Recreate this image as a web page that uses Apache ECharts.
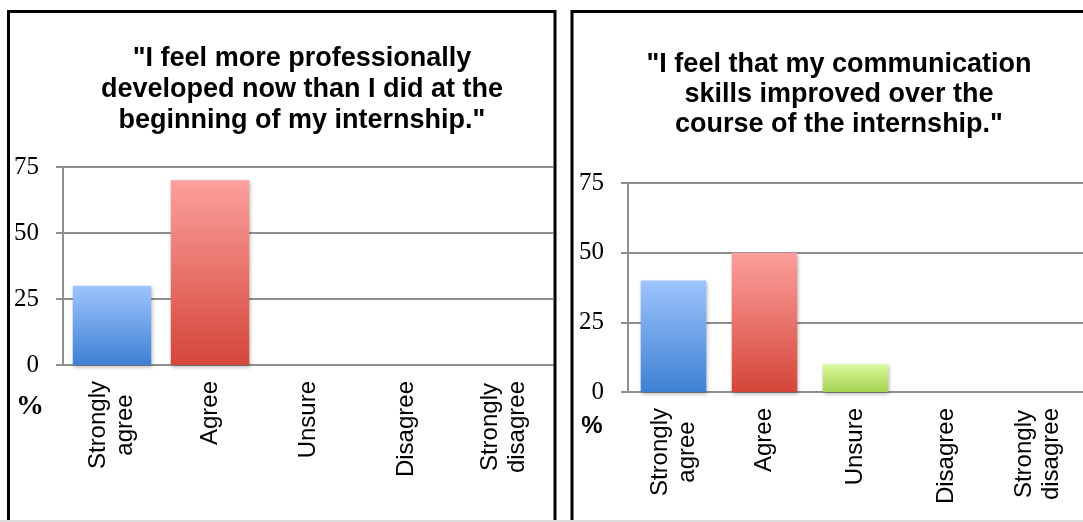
<!DOCTYPE html>
<html>
<head>
<meta charset="utf-8">
<script src="https://cdn.jsdelivr.net/npm/echarts@6/dist/echarts.min.js"></script>
<style>
html,body{margin:0;padding:0;background:#fff;}
#chart{width:1083px;height:522px;}
</style>
</head>
<body>
<div id="chart"></div>
<script>
// ---- data ----
const categories = ['Strongly\nagree', 'Agree', 'Unsure', 'Disagree', 'Strongly\ndisagree'];
const leftValues = [30, 70, 0, 0, 0];
const rightValues = [40, 50, 10, 0, 0];
const yTicks = [0, 25, 50, 75];
const leftTitle = '"I feel more professionally\ndeveloped now than I did at the\nbeginning of my internship."';
const rightTitle = '"I feel that my communication\nskills improved over the\ncourse of the internship."';
const unitLabel = '%';

// ---- styles ----
const GRID_GRAY = '#8f8f8f';
const SANS = 'Liberation Sans';
const SERIF = 'Liberation Serif';

function grad(top, bottom) {
  return new echarts.graphic.LinearGradient(0, 0, 0, 1, [
    { offset: 0, color: top }, { offset: 1, color: bottom }
  ]);
}
const barColors = [
  grad('#9dc4fd', '#3e80d3'),
  grad('#fc9f9c', '#d4463a'),
  grad('#dcfa9f', '#a5d052'),
  grad('#dcfa9f', '#a5d052'),
  grad('#dcfa9f', '#a5d052')
];

function toData(vals) {
  return vals.map((v, i) => ({ value: v, itemStyle: { color: barColors[i] } }));
}

function xAxisCfg(gridIndex) {
  return {
    type: 'category', gridIndex: gridIndex, data: categories,
    axisLine: { show: true, lineStyle: { color: GRID_GRAY, width: 2 } },
    axisTick: { show: false },
    axisLabel: {
      interval: 0, rotate: 90, margin: 16, color: '#000',
      fontFamily: SANS, fontSize: 24, lineHeight: 27,
      formatter: v => v.split('\n').map(s => '{c|' + s + '}').join('\n'),
      rich: { c: { align: 'center', fontFamily: SANS, fontSize: 24, lineHeight: 27, color: '#000' } }
    }
  };
}
function yAxisCfg(gridIndex) {
  return {
    type: 'value', gridIndex: gridIndex, min: yTicks[0], max: yTicks[yTicks.length - 1], interval: 25,
    axisLine: { show: true, lineStyle: { color: GRID_GRAY, width: 2 } },
    axisTick: { show: true, length: 7, lineStyle: { color: GRID_GRAY, width: 2 } },
    splitLine: { show: true, lineStyle: { color: GRID_GRAY, width: 2 } },
    axisLabel: { margin: 24, color: '#000', fontFamily: SERIF, fontSize: 25 }
  };
}

const chart = echarts.init(document.getElementById('chart'), null, { renderer: 'canvas' });
chart.setOption({
  backgroundColor: '#fff',
  animation: false,
  title: [
    { text: leftTitle, left: 297, top: 38, textAlign: 'center',
      textStyle: { fontFamily: SANS, fontWeight: 'bold', fontSize: 27, lineHeight: 31, color: '#000' } },
    { text: rightTitle, left: 834, top: 45, textAlign: 'center',
      textStyle: { fontFamily: SANS, fontWeight: 'bold', fontSize: 27, lineHeight: 30, color: '#000' } }
  ],
  grid: [
    { left: 63, top: 167, width: 490, height: 198 },
    { left: 628, top: 183, width: 459, height: 209 }
  ],
  xAxis: [xAxisCfg(0), xAxisCfg(1)],
  yAxis: [yAxisCfg(0), yAxisCfg(1)],
  series: [
    { type: 'bar', xAxisIndex: 0, yAxisIndex: 0, barWidth: '80%', data: toData(leftValues),
      itemStyle: { shadowColor: 'rgba(0,0,0,0.3)', shadowBlur: 4, shadowOffsetX: 1, shadowOffsetY: 2 } },
    { type: 'bar', xAxisIndex: 1, yAxisIndex: 1, barWidth: '72%', data: toData(rightValues),
      itemStyle: { shadowColor: 'rgba(0,0,0,0.3)', shadowBlur: 4, shadowOffsetX: 1, shadowOffsetY: 2 } }
  ],
  graphic: [
    { type: 'text', x: 30, y: 407, style: { text: unitLabel, fontFamily: SERIF, fontWeight: 'bold', fontSize: 28, fill: '#000', align: 'center', verticalAlign: 'middle' } },
    { type: 'text', x: 592, y: 426, style: { text: unitLabel, fontFamily: SANS, fontWeight: 'bold', fontSize: 24, fill: '#000', align: 'center', verticalAlign: 'middle' } },
    { type: 'rect', shape: { x: 8.5, y: 11.5, width: 546.5, height: 530 }, style: { fill: 'none', stroke: '#000', lineWidth: 3 }, z: 100 },
    { type: 'rect', shape: { x: 572, y: 11.5, width: 600, height: 530 }, style: { fill: 'none', stroke: '#000', lineWidth: 3 }, z: 100 },
    { type: 'rect', shape: { x: 0, y: 520, width: 1083, height: 2 }, style: { fill: '#dcdcdc' }, z: 101 }
  ]
});
</script>
</body>
</html>
